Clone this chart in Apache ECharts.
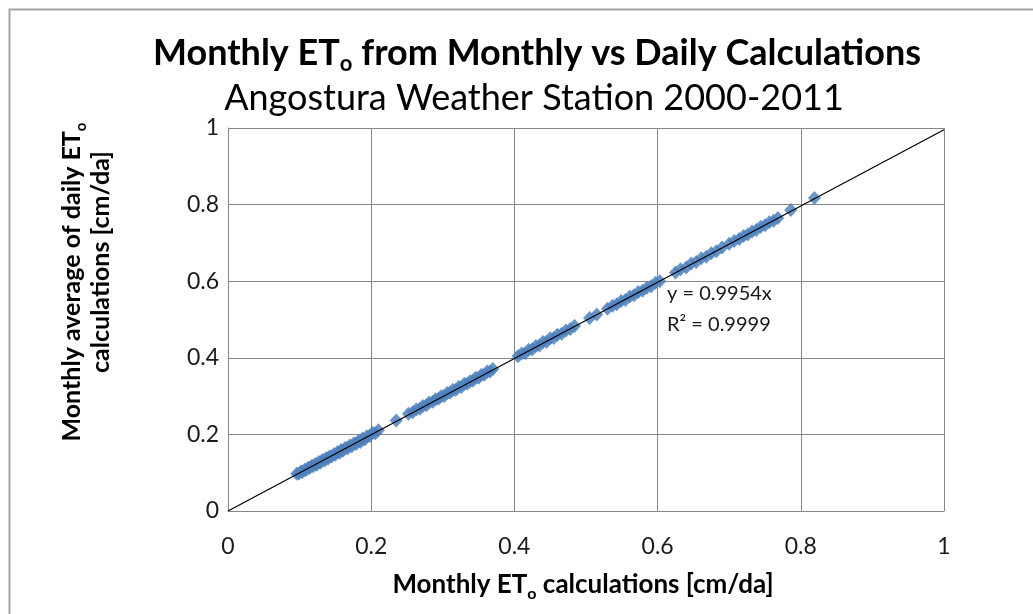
<!DOCTYPE html>
<html>
<head>
<meta charset="utf-8">
<title>Monthly ETo from Monthly vs Daily Calculations</title>
<script src="https://cdn.jsdelivr.net/npm/echarts@6/dist/echarts.min.js"></script>
<style>
  html, body { margin: 0; padding: 0; background: #fff; }
  #chart { width: 1033px; height: 614px; }
</style>
</head>
<body>
<div id="chart"></div>
<script>
// Monthly ETo from monthly calculation (x) vs monthly average of daily calculation (y), cm/da
const monthlyCalc = [
  0.096, 0.099, 0.102, 0.104, 0.107, 0.109, 0.112, 0.114, 0.117, 0.119,
  0.122, 0.124, 0.127, 0.129, 0.132, 0.135, 0.137, 0.140, 0.142, 0.145,
  0.148, 0.150, 0.153, 0.156, 0.158, 0.161, 0.164, 0.167, 0.170, 0.173,
  0.176, 0.179, 0.182, 0.185, 0.188, 0.191, 0.194, 0.198, 0.202, 0.206, 0.210,
  0.235, 0.252, 0.258, 0.263, 0.268, 0.272, 0.277, 0.281, 0.286, 0.290,
  0.294, 0.298, 0.302, 0.306, 0.310, 0.314, 0.318, 0.322, 0.326, 0.330,
  0.334, 0.338, 0.342, 0.346, 0.350, 0.354, 0.358, 0.362, 0.366, 0.370,
  0.405, 0.410, 0.415, 0.420, 0.425, 0.430, 0.435, 0.440, 0.445, 0.450,
  0.455, 0.460, 0.466, 0.472, 0.478, 0.484,
  0.505, 0.515, 0.530, 0.537, 0.543, 0.549, 0.555, 0.561, 0.567, 0.573,
  0.579, 0.585, 0.591, 0.597, 0.603,
  0.625, 0.632, 0.640, 0.647, 0.654, 0.661, 0.668, 0.675, 0.682, 0.690,
  0.700, 0.707, 0.714, 0.720, 0.726, 0.732, 0.738, 0.744, 0.750, 0.756,
  0.762, 0.768, 0.786, 0.819
];
const dailyAvg = [
  0.097, 0.098, 0.103, 0.102, 0.108, 0.107, 0.113, 0.112, 0.118, 0.117,
  0.123, 0.121, 0.128, 0.126, 0.133, 0.132, 0.138, 0.137, 0.143, 0.142,
  0.148, 0.147, 0.154, 0.152, 0.159, 0.158, 0.165, 0.163, 0.171, 0.169,
  0.177, 0.175, 0.183, 0.180, 0.189, 0.187, 0.195, 0.196, 0.204, 0.203, 0.211,
  0.236, 0.254, 0.258, 0.265, 0.267, 0.274, 0.276, 0.283, 0.285, 0.292,
  0.293, 0.300, 0.300, 0.308, 0.309, 0.316, 0.316, 0.324, 0.324, 0.332,
  0.332, 0.339, 0.340, 0.348, 0.348, 0.356, 0.356, 0.364, 0.364, 0.371,
  0.404, 0.411, 0.412, 0.421, 0.422, 0.431, 0.432, 0.441, 0.442, 0.451,
  0.452, 0.460, 0.463, 0.471, 0.475, 0.483,
  0.504, 0.513, 0.528, 0.536, 0.540, 0.548, 0.551, 0.560, 0.563, 0.572,
  0.575, 0.583, 0.587, 0.596, 0.600,
  0.623, 0.631, 0.636, 0.646, 0.650, 0.660, 0.664, 0.673, 0.678, 0.688,
  0.698, 0.705, 0.710, 0.718, 0.722, 0.730, 0.734, 0.742, 0.746, 0.754,
  0.758, 0.765, 0.786, 0.817
];

// linear trendline through origin, y = 0.9954x
const trendX = [0, 1];
const trendY = [0, 0.9954];
const trendLabel = ['y = 0.9954x', 'R\u00b2 = 0.9999'];

const FONT = 'Lato, "Open Sans", sans-serif';

const chart = echarts.init(document.getElementById('chart'));

const points = monthlyCalc.map((x, i) => [x, dailyAvg[i]]);
const trend = trendX.map((x, i) => [x, trendY[i]]);

// bold text with a subscript "o"
const subRich = (size, color) => ({
  b: { fontFamily: FONT, fontWeight: 'bold', fontSize: size, color: color, lineHeight: size + 8 },
  s: { fontFamily: FONT, fontWeight: 'bold', fontSize: Math.round(size * 0.6), color: color,
       lineHeight: Math.round(size * 0.6), verticalAlign: 'bottom' }
});

const option = {
  backgroundColor: '#fff',
  animation: false,
  title: [
    {
      text: '{b|Monthly ET}{s|o}{b| from Monthly vs Daily Calculations}',
      left: 532, top: 26, textAlign: 'center',
      textStyle: { rich: subRich(36, '#000') }
    },
    {
      text: 'Angostura Weather Station 2000-2011',
      left: 529, top: 75, textAlign: 'center',
      textStyle: { fontFamily: FONT, fontWeight: 'normal', fontSize: 36, color: '#000' }
    }
  ],
  grid: { left: 228, right: 89, top: 128, bottom: 103, containLabel: false },
  xAxis: {
    type: 'value', min: 0, max: 1, interval: 0.2,
    axisLine: { show: true, onZero: false, lineStyle: { color: '#868686', width: 1 } },
    axisTick: { show: false },
    axisLabel: { fontFamily: FONT, fontSize: 23, color: '#1a1a1a', margin: 24 },
    splitLine: { show: true, lineStyle: { color: '#868686', width: 1 } }
  },
  yAxis: {
    type: 'value', min: 0, max: 1, interval: 0.2,
    axisLine: { show: true, onZero: false, lineStyle: { color: '#868686', width: 1 } },
    axisTick: { show: false },
    axisLabel: { fontFamily: FONT, fontSize: 23, color: '#1a1a1a', margin: 9 },
    splitLine: { show: true, lineStyle: { color: '#868686', width: 1 } }
  },
  series: [
    {
      name: 'Monthly ETo',
      type: 'scatter',
      data: points,
      symbol: 'diamond',
      symbolSize: [13, 14],
      itemStyle: { color: '#4f81bd', opacity: 0.85 },
      z: 2
    },
    {
      name: 'Trendline',
      type: 'line',
      data: trend,
      symbol: 'none',
      lineStyle: { color: '#000', width: 1.2 },
      z: 3
    }
  ],
  graphic: [
    {
      type: 'rect', left: 7, top: 7, silent: true,
      shape: { width: 1040, height: 620 },
      style: { fill: 'none', stroke: '#a6a6a6', lineWidth: 2 }
    },
    {
      type: 'text', x: 72, y: 282, rotation: Math.PI / 2,
      style: {
        text: '{b|Monthly average of daily ET}{s|o}',
        align: 'center', verticalAlign: 'middle',
        rich: subRich(25, '#000')
      }
    },
    {
      type: 'text', x: 101, y: 262, rotation: Math.PI / 2,
      style: {
        text: 'calculations [cm/da]',
        align: 'center', verticalAlign: 'middle',
        font: 'bold 25px ' + FONT, fill: '#000'
      }
    },
    {
      type: 'text', x: 583, y: 585,
      style: {
        text: '{b|Monthly ET}{s|o}{b| calculations [cm/da]}',
        align: 'center', verticalAlign: 'middle',
        rich: subRich(26, '#000')
      }
    },
    {
      type: 'text', x: 667, y: 309,
      style: {
        text: trendLabel.join('\n'),
        align: 'left', verticalAlign: 'middle',
        font: '20px ' + FONT, fill: '#1a1a1a', lineHeight: 31
      }
    }
  ]
};

chart.setOption(option);
</script>
</body>
</html>
